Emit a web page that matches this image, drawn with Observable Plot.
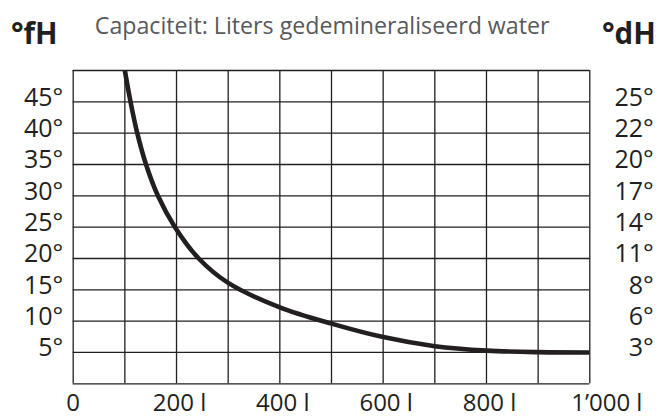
<!DOCTYPE html>
<html>
<head>
<meta charset="utf-8">
<script src="https://cdn.jsdelivr.net/npm/d3@7"></script>
<script src="https://cdn.jsdelivr.net/npm/@observablehq/plot@0.6"></script>
<style>
  html, body { margin: 0; padding: 0; background: #fff; }
  #chart svg { display: block; }
</style>
</head>
<body>
<div id="chart"></div>
<script>
// ---- data ----
const liters = [100, 111, 124, 141, 164, 197, 243, 300, 400, 500, 600, 700, 800, 900, 1000];
const hardnessFH = [50, 45, 40, 35, 30, 25, 20, 16.1, 12.2, 9.6, 7.45, 6.0, 5.3, 5.05, 5.0];

const fHTicks = [5, 10, 15, 20, 25, 30, 35, 40, 45];
const fHLabels = ["5°", "10°", "15°", "20°", "25°", "30°", "35°", "40°", "45°"];
const dHLabels = ["3°", "6°", "8°", "11°", "14°", "17°", "20°", "22°", "25°"];
const gridY = [0, 5, 10, 15, 20, 25, 30, 35, 40, 45, 50];
const gridX = [0, 100, 200, 300, 400, 500, 600, 700, 800, 900, 1000];
const literTicks = [0, 200, 400, 600, 800, 1000];
const literLabels = ["0", "200 l", "400 l", "600 l", "800 l", "1’000 l"];

const titleText = "Capaciteit: Liters gedemineraliseerd water";
const leftUnit = "°fH";
const rightUnit = "°dH";

const curve = liters.map((l, i) => ({liters: l, fH: hardnessFH[i]}));
const ink = "#231f20";
const fmtX = d => literLabels[literTicks.indexOf(d)];

const chart = Plot.plot({
  width: 660,
  height: 417,
  marginLeft: 72.7,
  marginRight: 70.7,
  marginTop: 70,
  marginBottom: 33.7,
  style: {fontFamily: "'Open Sans', sans-serif", color: ink, background: "#fff"},
  x: {domain: [0, 1000], label: null},
  y: {domain: [0, 50], label: null},
  marks: [
    Plot.ruleY(gridY, {stroke: ink, strokeWidth: 1.3}),
    Plot.ruleX(gridX, {stroke: ink, strokeWidth: 1.3}),
    Plot.line(curve, {x: "liters", y: "fH", stroke: ink, strokeWidth: 4.6, curve: "catmull-rom", clip: true}),
    Plot.axisY(fHTicks, {anchor: "left", label: null, tickSize: 0, tickPadding: 10, fontSize: 25, dy: -4,
      fill: ink, tickFormat: d => fHLabels[fHTicks.indexOf(d)]}),
    Plot.axisY(fHTicks, {anchor: "right", label: null, tickSize: 0, tickPadding: 64, textAnchor: "end", fontSize: 25, dy: -4,
      fill: ink, tickFormat: d => dHLabels[fHTicks.indexOf(d)]}),
    Plot.axisX(literTicks.slice(0, 1), {anchor: "bottom", label: null, tickSize: 0, tickPadding: 10.5, fontSize: 24,
      fill: ink, tickFormat: fmtX}),
    Plot.axisX(literTicks.slice(1, 5), {anchor: "bottom", label: null, tickSize: 0, tickPadding: 10.5, fontSize: 24, dx: 3,
      fill: ink, tickFormat: fmtX}),
    Plot.axisX(literTicks.slice(5), {anchor: "bottom", label: null, tickSize: 0, tickPadding: 10.5, fontSize: 24, dx: 17,
      fill: ink, tickFormat: fmtX}),
    Plot.text([titleText], {frameAnchor: "top-left", dx: 21.6, dy: -44, textAnchor: "start", lineAnchor: "middle",
      fontSize: 23.2, fill: "#58595b"}),
    Plot.text([leftUnit], {frameAnchor: "top-left", dx: -39, dy: -36, textAnchor: "middle", lineAnchor: "middle",
      fontSize: 29.5, fontWeight: "bold", fill: ink}),
    Plot.text([rightUnit], {frameAnchor: "top-right", dx: 66, dy: -36, textAnchor: "end", lineAnchor: "middle",
      fontSize: 29.5, fontWeight: "bold", fill: ink})
  ]
});
document.getElementById("chart").appendChild(chart);
</script>
</body>
</html>
